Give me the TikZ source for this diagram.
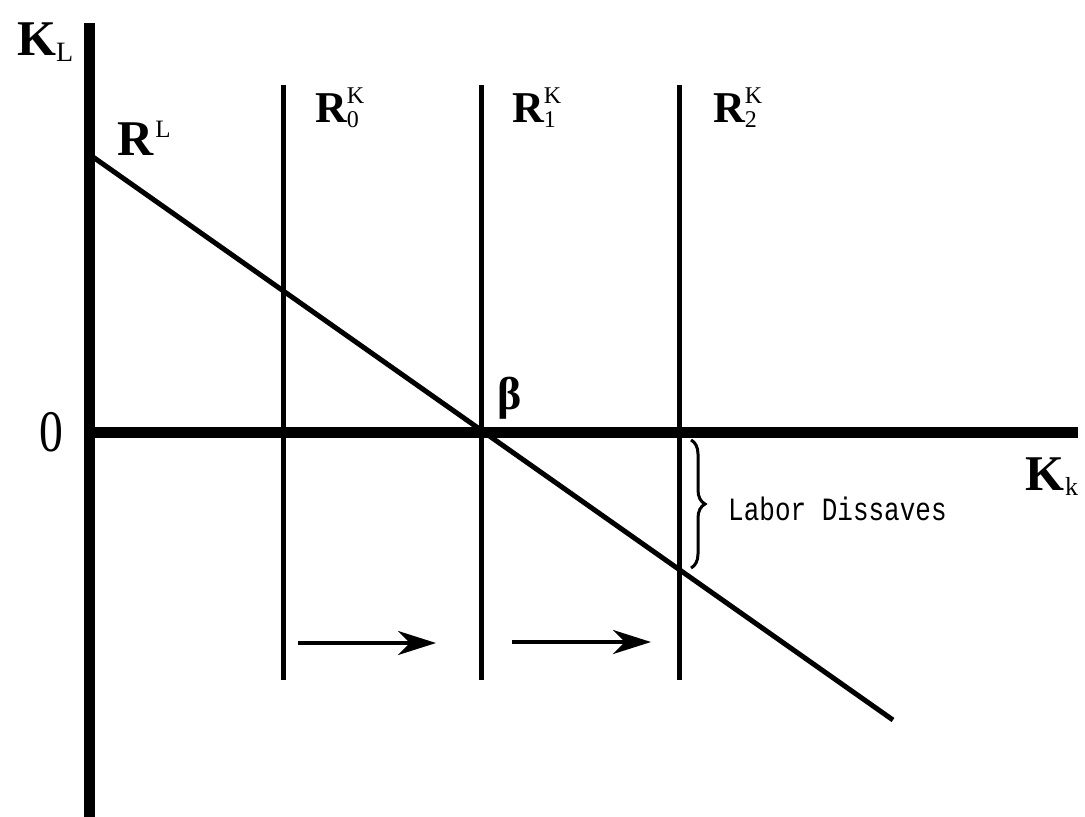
\documentclass[tikz,border=0pt]{standalone}
\usepackage{fontspec}
\setmainfont{Liberation Serif}
\newfontfamily\monof{Liberation Mono}
\usetikzlibrary{arrows.meta,decorations.pathreplacing}
\newcommand{\bigR}{{\fontsize{44}{44}\selectfont\bfseries R}}
\newcommand{\scr}[1]{{\fontsize{24}{24}\selectfont #1}}
\newcommand{\RK}[1]{\bigR\rlap{\raisebox{19pt}{\scr{K}}}\raisebox{-5pt}{\scr{#1}}}
\begin{document}
\begin{tikzpicture}[x=1pt,y=-1pt,
  axis/.style={line width=11pt},
  curve/.style={line width=5pt},
  vline/.style={line width=5pt},
  shiftarrow/.style={line width=4pt,-{Stealth[length=38pt,width=24pt,inset=12pt]}},
  lab/.style={inner sep=0pt,anchor=base west},
  brc/.style={line width=3pt,decorate,decoration={brace,amplitude=14pt}}]
\path[use as bounding box] (0,0) rectangle (1085,817);
% axes
\coordinate (ytop) at (89,23);
\coordinate (ybot) at (89,817);
\coordinate (orig) at (84,432);
\coordinate (xend) at (1078,432);
\draw[axis] (ytop) -- (ybot);
\draw[axis] (orig) -- (xend);
% vertical R^K lines
\foreach \n/\x in {0/283,1/481,2/679}{
  \coordinate (t\n) at (\x,85);
  \coordinate (b\n) at (\x,680);
  \draw[vline] (t\n) -- (b\n);
}
% R^L line
\coordinate (rls) at (93,157);
\coordinate (rle) at (893,720);
\draw[curve] (rls) -- (rle);
% labels
\node[lab] (KL) at (17,55) {{\fontsize{50}{50}\selectfont\bfseries K}\raisebox{-6pt}{{\fontsize{28}{28}\selectfont L}}};
\node[lab] (RL) at (117,155) {{\fontsize{50}{50}\selectfont\bfseries R}\hspace{2pt}\raisebox{18pt}{{\fontsize{25}{25}\selectfont L}}};
\node[lab] (R0) at (315,122) {\RK{0}};
\node[lab] (R1) at (512,122) {\RK{1}};
\node[lab] (R2) at (713,122) {\RK{2}};
\node[inner sep=0pt] (beta) at (510,398) {{\fontsize{46}{46}\selectfont\bfseries β}};
\node[inner sep=0pt] (zero) at (51,432) {\scalebox{0.85}[1.05]{\fontsize{56}{56}\selectfont 0}};
\node[lab] (Kk) at (1025,490) {{\fontsize{50}{50}\selectfont\bfseries K}\hspace{1pt}\raisebox{-5pt}{{\fontsize{26}{26}\selectfont k}}};
\node[lab] (LD) at (728,520) {\scalebox{1}[1.25]{\monof\fontsize{26}{26}\selectfont Labor Dissaves}};
% brace
\coordinate (bt) at (691,440);
\coordinate (bb) at (691,568);
\draw[brc] (bt) -- (bb);
% shift arrows
\coordinate (a1s) at (298,643);
\coordinate (a1e) at (436,643);
\coordinate (a2s) at (512,642);
\coordinate (a2e) at (651,642);
\draw[shiftarrow] (a1s) -- (a1e);
\draw[shiftarrow] (a2s) -- (a2e);
\end{tikzpicture}
\end{document}
